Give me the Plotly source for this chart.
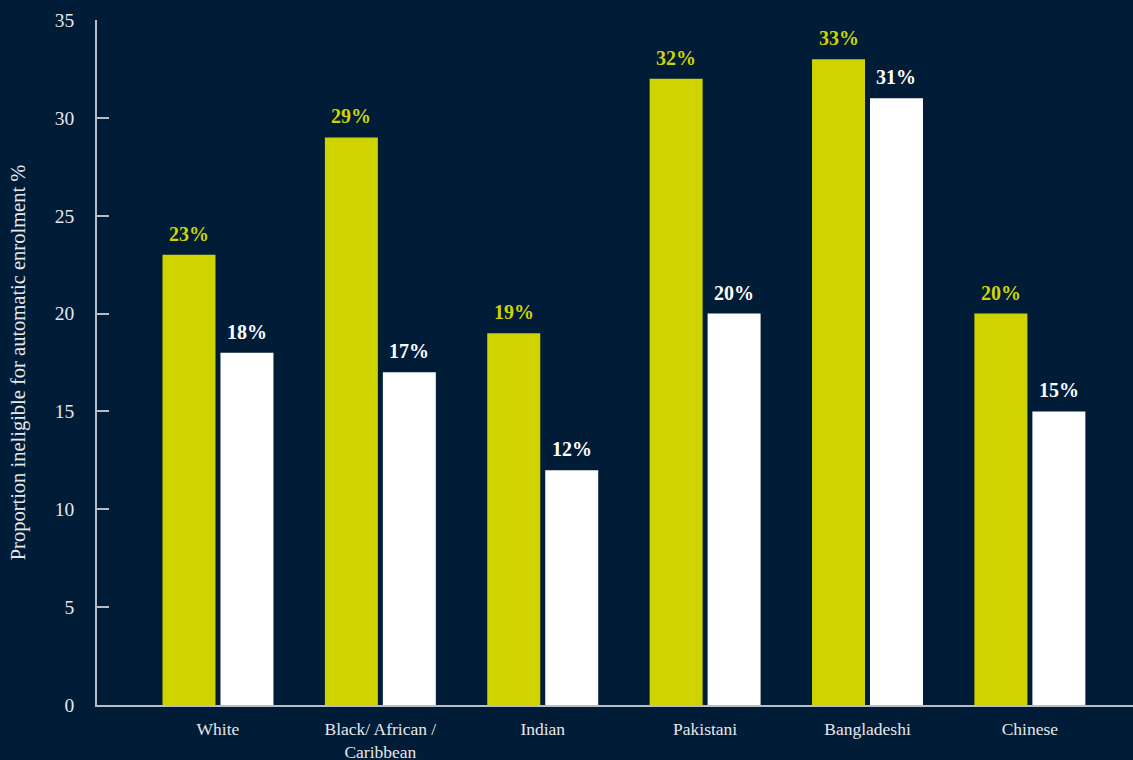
import plotly.graph_objects as go

categories = ["White", "Black/ African /<br>Caribbean", "Indian", "Pakistani", "Bangladeshi", "Chinese"]
series_a = [23, 29, 19, 32, 33, 20]
series_b = [18, 17, 12, 20, 31, 15]
y_ticks = [0, 5, 10, 15, 20, 25, 30, 35]

BG = "#001c37"
YELLOW = "#cfd400"
AXIS = "#b9bec6"
TXT = "#e6e8ec"
FONT = "Liberation Serif"
BARGAP = 0.286
GROUPGAP = 0.086

x_pos = list(range(len(categories)))

fig = go.Figure()
series = [(series_a, YELLOW, "Series A"), (series_b, "#ffffff", "Series B")]
for vals, col, name in series:
    fig.add_trace(go.Bar(
        x=x_pos, y=vals, name=name,
        marker=dict(color=col, line=dict(width=0)),
        hoverinfo="x+y",
    ))

# value labels centred above each bar of the group
slot = (1 - BARGAP) / len(series)
for k, (vals, col, name) in enumerate(series):
    off = (k - (len(series) - 1) / 2) * slot
    for i, v in zip(x_pos, vals):
        fig.add_annotation(
            x=i + off, y=v, text=f"{v}%", showarrow=False,
            xref="x", yref="y", yanchor="bottom", yshift=8,
            font=dict(family=FONT, size=20, color=col, weight="bold"),
        )

fig.update_layout(
    width=1133, height=760,
    paper_bgcolor=BG, plot_bgcolor=BG,
    margin=dict(l=97, r=0, t=20, b=55),
    barmode="group", bargap=BARGAP, bargroupgap=GROUPGAP,
    showlegend=False,
    font=dict(family=FONT, color=TXT),
    xaxis=dict(
        range=[-0.745, 5.635], automargin=False,
        tickmode="array", tickvals=x_pos, ticktext=categories,
        showgrid=False, zeroline=False,
        showline=True, linecolor=AXIS, linewidth=1.5,
        ticks="", ticklabelstandoff=7,
        tickfont=dict(family=FONT, size=17.5, color=TXT),
    ),
    yaxis=dict(
        range=[0, 35], tickmode="array", tickvals=y_ticks, automargin=False,
        showgrid=False, zeroline=False,
        showline=True, linecolor=AXIS, linewidth=1.5,
        ticks="inside", ticklen=12, tickcolor=AXIS, tickwidth=1.5,
        ticklabelstandoff=17,
        tickfont=dict(family=FONT, size=19.5, color=TXT),
        title=dict(text="Proportion ineligible for automatic enrolment %",
                   font=dict(family=FONT, size=20.5, color=TXT), standoff=24),
    ),
)

fig.write_html(
    "out.html",
    config={"displayModeBar": False},
    post_script="document.body.style.margin='0';document.body.style.overflow='hidden';",
)
